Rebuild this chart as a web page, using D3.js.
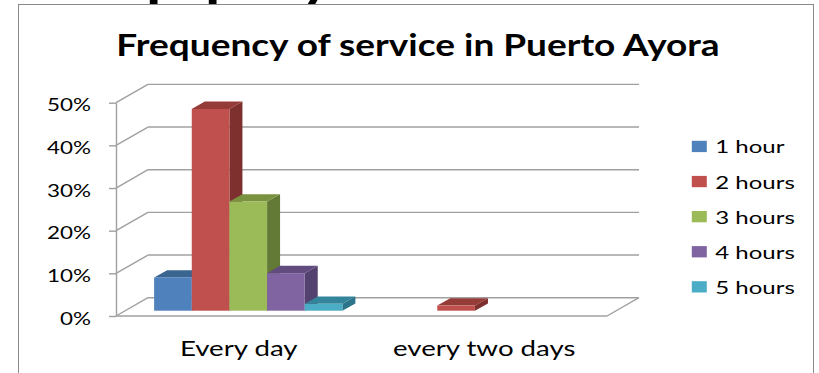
<!DOCTYPE html>
<html>
<head>
<meta charset="utf-8">
<script src="https://cdn.jsdelivr.net/npm/d3@7"></script>
<style>
  body { margin: 0; background: #fff; }
  svg { display: block; }
</style>
</head>
<body>
<svg id="chart" width="819" height="373"></svg>
<script>
// ---- data ----
const categories = ["Every day", "every two days"];
const seriesNames = ["1 hour", "2 hours", "3 hours", "4 hours", "5 hours"];
const oneHour    = [0.078, 0];
const twoHours   = [0.473, 0.012];
const threeHours = [0.256, 0];
const fourHours  = [0.088, 0];
const fiveHours  = [0.016, 0];
const tickValues = [0, 0.1, 0.2, 0.3, 0.4, 0.5];
const tickLabels = ["0%", "10%", "20%", "30%", "40%", "50%"];
const chartTitle = "Frequency of service in Puerto Ayora";

const seriesValues = [oneHour, twoHours, threeHours, fourHours, fiveHours];

// face colours: front, top, side
const frontColors = ["#4F81BD", "#C0504D", "#9BBB59", "#8064A2", "#4BACC6"];
const topColors   = ["#3B6591", "#953B38", "#78923F", "#624B7E", "#32859A"];
const sideColors  = ["#365C86", "#7D302E", "#627A35", "#53416F", "#2C7588"];

const FONT = "Lato, 'Open Sans', sans-serif";
const GRID = "#a0a0a0";

const svg = d3.select("#chart");

// ---- helpers ----
// widen text horizontally by a factor so glyph proportions match the layout
function stretchFactor(size, weight, sample, target) {
  const t = svg.append("text").attr("font-family", FONT).attr("font-size", size)
    .attr("font-weight", weight).text(sample);
  const w = t.node().getComputedTextLength();
  t.remove();
  return target / w;
}
function stretch(sel, k) {
  sel.each(function () {
    const w = this.getComputedTextLength();
    d3.select(this).attr("textLength", w * k).attr("lengthAdjust", "spacingAndGlyphs");
  });
}

// ---- stray heading descenders above the frame ----
svg.append("clipPath").attr("id", "topClip")
  .append("rect").attr("x", 0).attr("y", 0).attr("width", 819).attr("height", 4.5);
const frag = svg.append("g").attr("clip-path", "url(#topClip)")
  .attr("font-family", FONT).attr("font-weight", 700).attr("font-size", 48).attr("fill", "#000");
[["p", 146], ["p", 205], ["y", 300]].forEach(([ch, x]) => {
  frag.append("text").attr("x", x).attr("y", -3).text(ch)
    .attr("transform", `translate(${x},0) scale(1.3,1) translate(${-x},0)`);
});

// ---- frame ----
svg.append("rect").attr("x", 18.5).attr("y", 4.5).attr("width", 795).attr("height", 400)
  .attr("fill", "none").attr("stroke", "#8a8a8a").attr("stroke-width", 1);

// ---- 3-D geometry ----
const FRONT_L = 116, FRONT_R = 607;
const DEPTH = [32, -18.3];       // floor depth vector
const BAR_OFF = [9.5, -5.3];     // bar front set back from floor front
const BAR_DEPTH = [13, -7.3];    // bar depth vector

const y = d3.scaleLinear().domain([0, 0.5]).range([316, 102.7]);
const x0 = d3.scaleBand().domain(categories).range([FRONT_L, FRONT_R]).paddingInner(0).paddingOuter(0);
const x1 = d3.scaleBand().domain(seriesNames).range([0, x0.bandwidth()]).paddingInner(0).paddingOuter(0.76);

const walls = svg.append("g").attr("stroke", GRID).attr("stroke-width", 1.4).attr("fill", "none");
// back wall gridlines
walls.selectAll(".grid").data(tickValues).join("line")
  .attr("x1", FRONT_L + DEPTH[0]).attr("x2", FRONT_R + DEPTH[0])
  .attr("y1", d => y(d) + DEPTH[1]).attr("y2", d => y(d) + DEPTH[1]);
// side wall diagonals
walls.selectAll(".diag").data(tickValues).join("line")
  .attr("x1", FRONT_L).attr("x2", FRONT_L + DEPTH[0])
  .attr("y1", d => y(d)).attr("y2", d => y(d) + DEPTH[1]);
// floor front edge and right edge
walls.append("line").attr("x1", FRONT_L).attr("x2", FRONT_R).attr("y1", y(0)).attr("y2", y(0));
walls.append("line").attr("x1", FRONT_R).attr("x2", FRONT_R + DEPTH[0])
  .attr("y1", y(0)).attr("y2", y(0) + DEPTH[1]);

// value axis
const axis = svg.append("g").attr("transform", `translate(${FRONT_L},0)`)
  .call(d3.axisLeft(y).tickValues(tickValues).tickFormat((d, i) => tickLabels[i])
    .tickSize(7).tickSizeOuter(0).tickPadding(18));
axis.select(".domain").attr("stroke", GRID).attr("stroke-width", 1.4);
axis.selectAll(".tick line").attr("stroke", GRID).attr("stroke-width", 1.4);
const tickText = axis.selectAll(".tick text").attr("font-family", FONT).attr("font-size", 17)
  .attr("fill", "#000").attr("dy", "0.47em");
stretch(tickText, stretchFactor(17, 400, "50%", 44));

// ---- bars ----
const bars = [];
categories.forEach((c, ci) => {
  seriesNames.forEach((s, si) => {
    const v = seriesValues[si][ci];
    if (v > 0) bars.push({ c, s, si, v });
  });
});
const barG = svg.append("g");
bars.forEach(b => {
  const bx = x0(b.c) + x1(b.s) + BAR_OFF[0];
  const bw = x1.bandwidth();
  const base = y(0) + BAR_OFF[1];
  const top = y(b.v) + BAR_OFF[1];
  const [dx, dy] = BAR_DEPTH;
  const g = barG.append("g");
  g.append("polygon").attr("fill", sideColors[b.si])
    .attr("points", [[bx + bw, top], [bx + bw + dx, top + dy], [bx + bw + dx, base + dy], [bx + bw, base]].join(" "));
  g.append("polygon").attr("fill", topColors[b.si])
    .attr("points", [[bx, top], [bx + dx, top + dy], [bx + bw + dx, top + dy], [bx + bw, top]].join(" "));
  g.append("rect").attr("fill", frontColors[b.si])
    .attr("x", bx).attr("y", top).attr("width", bw).attr("height", base - top);
});

// ---- category labels ----
const catText = svg.append("g").selectAll("text").data(categories).join("text")
  .attr("x", d => x0(d) + x0.bandwidth() / 2).attr("y", 355.7)
  .attr("text-anchor", "middle").attr("font-family", FONT).attr("font-size", 21.5)
  .attr("fill", "#000").text(d => d);
stretch(catText, stretchFactor(21.5, 400, "Every day", 117.6));

// ---- title ----
const title = svg.append("text").attr("x", 418).attr("y", 56).attr("text-anchor", "middle")
  .attr("font-family", FONT).attr("font-size", 30).attr("font-weight", 700)
  .attr("fill", "#000").text(chartTitle);
stretch(title, stretchFactor(30, 700, chartTitle, 603.3));

// ---- legend ----
const legend = svg.append("g").selectAll("g").data(seriesNames).join("g")
  .attr("transform", (d, i) => `translate(691.8,${140.8 + i * 35.1})`);
legend.append("rect").attr("width", 15).attr("height", 11.3).attr("fill", (d, i) => frontColors[i]);
const legText = legend.append("text").attr("x", 23.5).attr("y", 12.6)
  .attr("font-family", FONT).attr("font-size", 17.5).attr("fill", "#000").text(d => d);
stretch(legText, stretchFactor(17.5, 400, "2 hours", 79.5));
</script>
</body>
</html>
